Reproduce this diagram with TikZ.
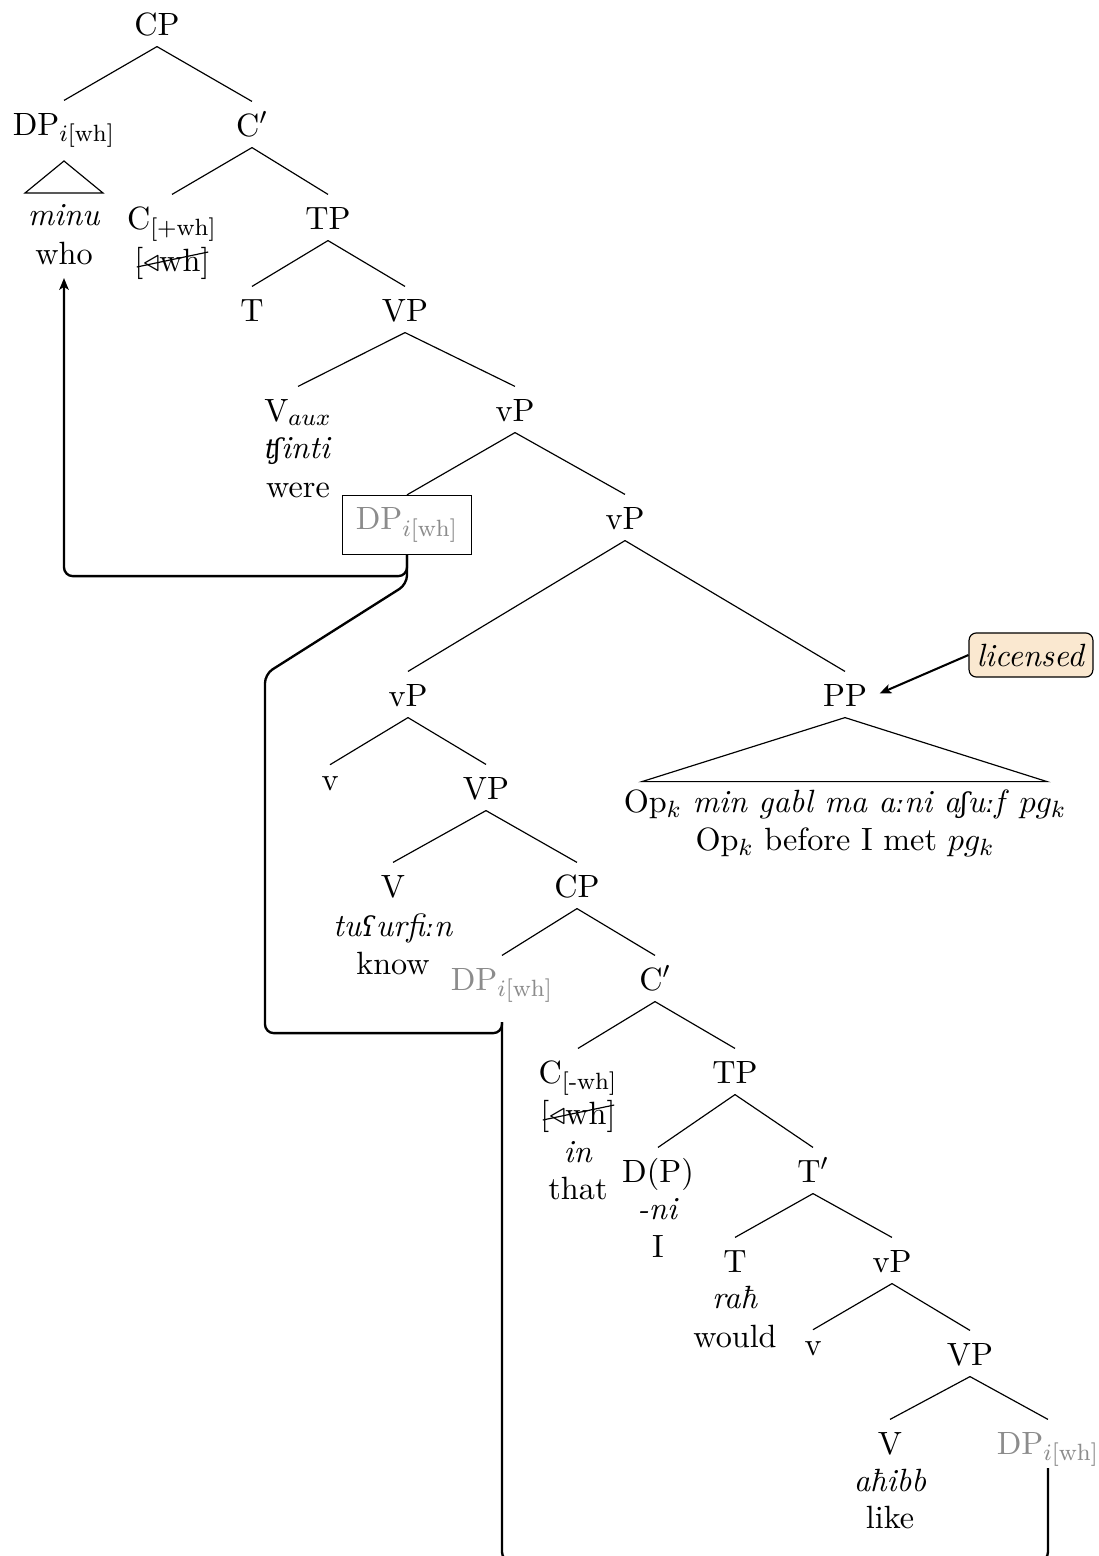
\documentclass[tikz,border=0pt]{standalone}
\usepackage{fontspec}
\newfontfamily\ipafont[Scale=0.85]{DejaVu Serif}
\newcommand{\ip}[1]{{\ipafont\itshape #1}}
\usetikzlibrary{arrows.meta,calc}

\begin{document}
\begin{tikzpicture}[x=0.34pt,y=-0.34pt,
  font=\fontsize{10.95}{13.6}\selectfont,
  cat/.style={inner sep=0pt, anchor=base, text height=11.56pt, text depth=3.74pt},
  small/.style={cat, text height=8.4pt},
  gloss/.style={inner sep=0pt, anchor=base},
  trace/.style={text=black!45},
  branch/.style={line width=0.4pt},
  move/.style={line width=0.8pt, rounded corners=3pt},
  tip/.style={-{Stealth[length=4pt,width=3.2pt,inset=1pt]}},
  lic/.style={draw, rounded corners=2.5pt, fill={rgb,255:red,250;green,232;blue,208},
              inner xsep=2.6pt, inner ysep=0pt, minimum height=15pt},
  tracebox/.style={draw, inner sep=0pt, minimum width=43.9pt, minimum height=20.1pt}]
\useasboundingbox (0,0) rectangle (1099,1556);

% matrix clause
\node[cat] (cp1) at (157,35) {CP};
\node[cat] (dp1) at (64,135) {DP$_{i[\mathrm{wh}]}$};
\node[cat] (cb1) at (252,136) {C$'$};
\node[gloss] (minu) at (64,225) {\textit{minu}};
\node[gloss] (who) at (64,264) {who};
\node[cat] (c1) at (172,229) {C\textsubscript{[+wh]}};
\node[gloss] (f1) at (172,271) {[$\triangleleft$wh]};
\node[cat] (tp1) at (328,229) {TP};
\node[cat] (t1) at (252,321) {T};
\node[cat] (vp1) at (405,321) {VP};
\node[cat] (vaux) at (298,421) {V$_{aux}$};
\node[gloss] (tfinti) at (298,458) {\textit{\ip{ʧ}inti}};
\node[gloss] (were) at (298,497) {were};
\node[cat] (lvp1) at (515,421) {vP};
\node[tracebox, trace] (dpbox) at (407,525) {DP$_{i[\mathrm{wh}]}$};
\node[cat] (lvp2) at (625,529) {vP};
\node[cat] (lvp3) at (408,706) {vP};
\node[cat] (pp) at (845,706) {PP};
\node[lic] (lic) at (1031,655) {\textit{licensed}};
\node[gloss] (op1) at (845,812) {Op$_k$ \textit{min gabl ma a\ip{ː}ni a\ip{ʃ}u\ip{ː}f} $pg_k$};
\node[gloss] (op2) at (845,850) {Op$_k$ before I met $pg_k$};
\node[small] (lv1) at (330,790) {v};
\node[cat] (vp2) at (486,799) {VP};
\node[cat] (v2) at (393,897) {V};
\node[gloss] (know1) at (393,936) {\textit{tu\ip{ʕ}urfi\ip{ː}n}};
\node[gloss] (know2) at (393,974) {know};
\node[cat] (cp2) at (577,897) {CP};

% embedded clause
\node[cat, trace] (dpb) at (502,990) {DP$_{i[\mathrm{wh}]}$};
\node[cat] (cb2) at (655,990) {C$'$};
\node[cat] (c2) at (578,1083) {C\textsubscript{[-wh]}};
\node[gloss] (f2) at (578,1124) {[$\triangleleft$wh]};
\node[gloss] (in) at (578,1162) {\textit{in}};
\node[gloss] (that) at (578,1199) {that};
\node[cat] (tp2) at (735,1083) {TP};
\node[cat] (dp2) at (658,1182) {D(P)};
\node[gloss] (ni) at (658,1219) {\textit{-ni}};
\node[gloss] (me) at (658,1257) {I};
\node[cat] (tb2) at (813,1182) {T$'$};
\node[cat] (t2) at (735,1272) {T};
\node[gloss] (rah) at (735,1308) {\textit{raħ}};
\node[gloss] (would) at (735,1347) {would};
\node[cat] (lvp4) at (892,1272) {vP};
\node[small] (lv2) at (813,1355) {v};
\node[cat] (vp3) at (970,1365) {VP};
\node[cat] (v3) at (890,1454) {V};
\node[gloss] (ahibb) at (890,1491) {\textit{aħibb}};
\node[gloss] (like) at (890,1528) {like};
\node[cat, trace] (dpc) at (1048,1454) {DP$_{i[\mathrm{wh}]}$};

% branches
\foreach \p/\c in {cp1/dp1, cp1/cb1, cb1/c1, cb1/tp1, tp1/t1, tp1/vp1,
                   vp1/vaux, vp1/lvp1, lvp1/dpbox, lvp1/lvp2, lvp2/lvp3, lvp2/pp,
                   lvp3/lv1, lvp3/vp2, vp2/v2, vp2/cp2, cp2/dpb, cp2/cb2,
                   cb2/c2, cb2/tp2, tp2/dp2, tp2/tb2, tb2/t2, tb2/lvp4,
                   lvp4/lv2, lvp4/vp3, vp3/v3, vp3/dpc}
  \draw[branch] (\p.south) -- (\c.north);

% roofs
\draw[branch] ($(dp1.base)+(0,26)$) -- ++(-39,32) -- ++(78,0) -- cycle;
\draw[branch] (pp.south) -- ++(-203,64) -- ++(405,0) -- cycle;

% checked features
\draw[branch] ($(f1.base west)+(3,-4)$) -- ($(f1.base east)+(-2,-19)$);
\draw[branch] ($(f2.base west)+(3,-4)$) -- ($(f2.base east)+(-2,-19)$);

% licensing note
\coordinate (ppin) at ($(pp.east)+(12,-1)$);
\draw[line width=0.7pt, tip] (lic.west) -- (ppin);

% movement paths
\coordinate (whofoot) at ($(who.base)+(0,14)$);
\coordinate (dpbfoot) at ($(dpb.base)+(0,32)$);
\coordinate (dpcfoot) at ($(dpc.base)+(0,14)$);
\draw[move, tip] (dpbox.south) -- ++(0,21) -| (whofoot);
\draw[move] (dpbox.south) -- ++(0,29) -- ++(-142,90) -- ++(0,359) -| (dpbfoot);
\draw[move] (dpbfoot) -- ++(0,539) -| (dpcfoot);
\end{tikzpicture}
\end{document}
